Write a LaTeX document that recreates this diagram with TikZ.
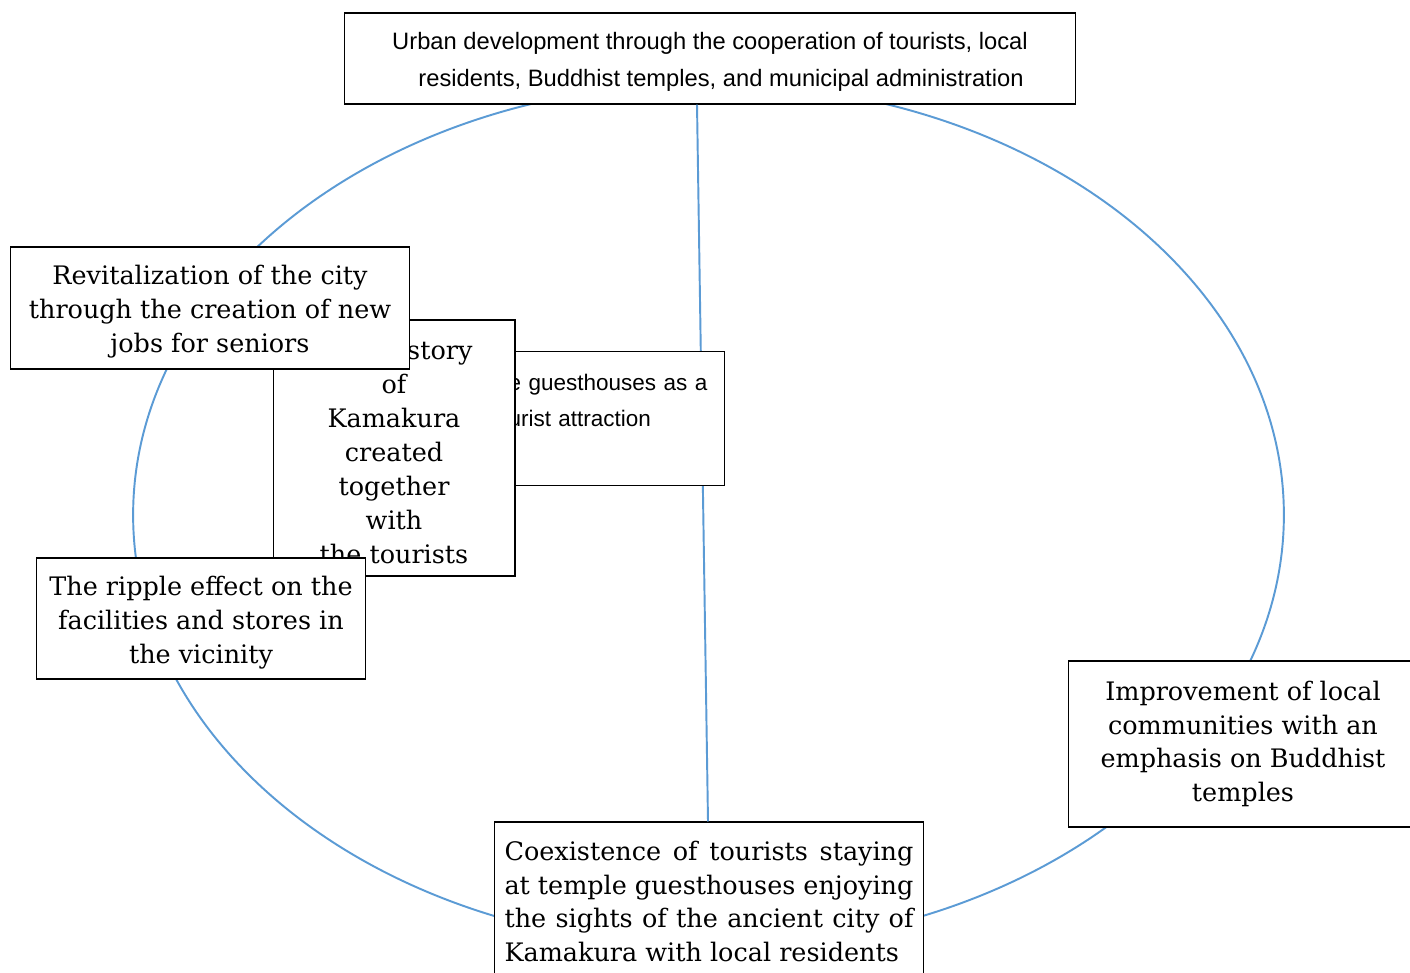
\documentclass[tikz,border=0pt]{standalone}
\usepackage{fontspec}
\setmainfont{DejaVu Serif}
\newfontfamily\gothic{Liberation Sans}
\definecolor{ringblue}{RGB}{91,155,213}
\newcommand{\lowr}{\rule{0pt}{15.5pt}}
\tikzset{
  box/.style={draw, fill=white, line width=0.6pt, inner sep=0pt, align=center,
    font=\fontsize{14.5}{19.3}\selectfont},
  gbox/.style={box, font=\gothic\fontsize{13.5}{21}\selectfont},
  ring/.style={draw=ringblue, line width=1.1pt}
}
\begin{document}
\begin{tikzpicture}[x=0.02cm, y=-0.02cm]
  \clip (0,0) rectangle (1410,973);
  \fill[white] (0,0) rectangle (1410,973);
  \draw[ring] (708.5,515) ellipse [x radius=11.51cm, y radius=8.64cm];
  \node[gbox, minimum width=14.64cm, minimum height=1.82cm] (urban) at (710,58.5)
    {\rule{0pt}{13.5pt}Urban development through the cooperation of tourists, local\\
     \hspace*{0.44cm}residents, Buddhist temples, and municipal administration};
  \node[box, minimum width=8.6cm, minimum height=3.18cm, text width=8.18cm,
    align=justify] (coexist) at (709,901.5)
    {Coexistence of tourists staying\linebreak at temple guesthouses enjoying\linebreak
     the sights of the ancient city of\linebreak Kamakura with local residents};
  \draw[ring] ([xshift=-0.26cm]urban.south) -- ([xshift=-0.02cm]coexist.north);
  \node[gbox, font=\gothic\fontsize{12.8}{20.5}\selectfont, anchor=north east,
    inner xsep=0.16cm, text width=4.16cm, align=left, minimum height=2.68cm]
    (guest) at (725,351) {e guesthouses as a\\urist attraction\\\mbox{}};
  \node[box, minimum width=4.84cm, minimum height=5.12cm] (story) at (394,448)
    {\lowr\hspace*{3.6em}story\\of\\Kamakura\\created\\together\\with\\the tourists};
  \node[box, minimum width=8cm, minimum height=2.44cm] (revital) at (210,308)
    {\lowr Revitalization of the city\\through the creation of new\\jobs for seniors};
  \node[box, minimum width=6.6cm, minimum height=2.42cm] (ripple) at (201,618.5)
    {\lowr The ripple effect on the\\facilities and stores in\\the vicinity};
  \node[box, minimum width=7cm, minimum height=3.32cm] (improve) at (1243,744)
    {Improvement of local\\communities with an\\emphasis on Buddhist\\temples};
\end{tikzpicture}
\end{document}
